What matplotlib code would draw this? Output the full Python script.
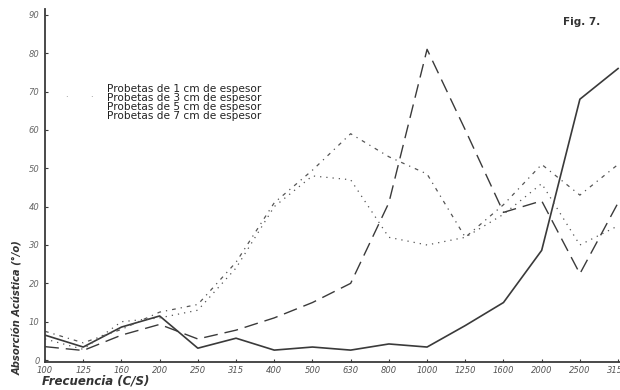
import matplotlib
matplotlib.use("Agg")
import matplotlib.pyplot as plt

# frequency bands (C/S) and absorption values (%)
freqs = ["100", "125", "160", "200", "250", "315", "400", "500",
         "630", "800", "1000", "1250", "1600", "2000", "2500", "3150"]

cm1 = [6.5, 3.4, 8.6, 11.5, 3.1, 5.7, 2.6, 3.4,
       2.6, 4.2, 3.4, 9.0, 15.0, 28.6, 68.0, 76.0]
cm3 = [3.5, 2.5, 6.5, 9.3, 5.5, 7.8, 11.0, 15.0,
       20.0, 41.0, 81.0, 60.0, 38.5, 41.5, 22.5, 41.0]
cm5 = [7.5, 4.5, 8.0, 12.5, 14.5, 25.5, 41.0, 49.5,
       59.0, 53.0, 48.5, 32.0, 40.5, 51.0, 43.0, 51.0]
cm7 = [5.5, 2.8, 10.0, 11.0, 13.0, 24.0, 40.0, 48.0,
       47.0, 32.0, 30.0, 32.0, 38.0, 46.0, 30.0, 35.0]

labels = ["Probetas de 1 cm de espesor",
          "Probetas de 3 cm de espesor",
          "Probetas de 5 cm de espesor",
          "Probetas de 7 cm de espesor"]

INK = "#3a3a3a"


def main():
    fig = plt.figure(figsize=(6.2, 3.9), dpi=100)
    ax = fig.add_axes([0.0726, 0.0718, 0.9274, 0.905])

    x = range(len(freqs))
    ax.plot(x, cm1, color=INK, lw=1.2, linestyle="-")
    ax.plot(x, cm3, color=INK, lw=1.0, linestyle=(0, (10, 5)))
    ax.plot(x, cm5, color="#555555", lw=0.9, linestyle=(0, (3, 4, 1, 4)))
    ax.plot(x, cm7, color="#555555", lw=0.9, linestyle=(0, (1, 4)))

    ax.set_xlim(0, 15.05)
    ax.set_ylim(-0.5, 91.5)
    ax.set_xticks(list(x))
    ax.set_xticklabels(freqs, fontsize=6, style="italic")
    ax.set_yticks(range(0, 100, 10))
    ax.set_yticklabels([str(v) for v in range(0, 100, 10)], fontsize=6,
                       style="italic")
    ax.tick_params(direction="in", length=2.5, width=0.8, colors=INK, pad=4)
    ax.tick_params(axis="y", labelcolor="#666666")
    ax.tick_params(axis="x", labelcolor="#555555", pad=3)

    for side in ["top", "right"]:
        ax.spines[side].set_visible(False)
    for side in ["left", "bottom"]:
        ax.spines[side].set_color(INK)
        ax.spines[side].set_linewidth(1.3)

    # legend text only, the handles in the print are almost lost
    for i, lab in enumerate(labels):
        fig.text(107 / 620, 1 - (89 + 9 * i) / 390, lab, fontsize=7.6,
                 color="#222222", va="center", ha="left")
    fig.text(65 / 620, 1 - 97 / 390, ".", fontsize=6, color="#777777")
    fig.text(90 / 620, 1 - 97 / 390, ".", fontsize=6, color="#777777")

    fig.text(563 / 620, 1 - 22 / 390, "Fig. 7.", fontsize=7.5,
             fontweight="bold", color="#333333", va="center")

    fig.text(18 / 620, 1 - 308 / 390, "Absorción Acústica (°/o)",
             rotation=90, fontsize=7.2, style="italic", fontweight="bold",
             color="#333333", ha="center", va="center")
    fig.text(42 / 620, 1 - 381 / 390, "Frecuencia (C/S)", fontsize=8.5,
             style="italic", fontweight="bold", color="#333333",
             ha="left", va="center")

    fig.savefig("out.png", dpi=100)


if __name__ == "__main__":
    main()
